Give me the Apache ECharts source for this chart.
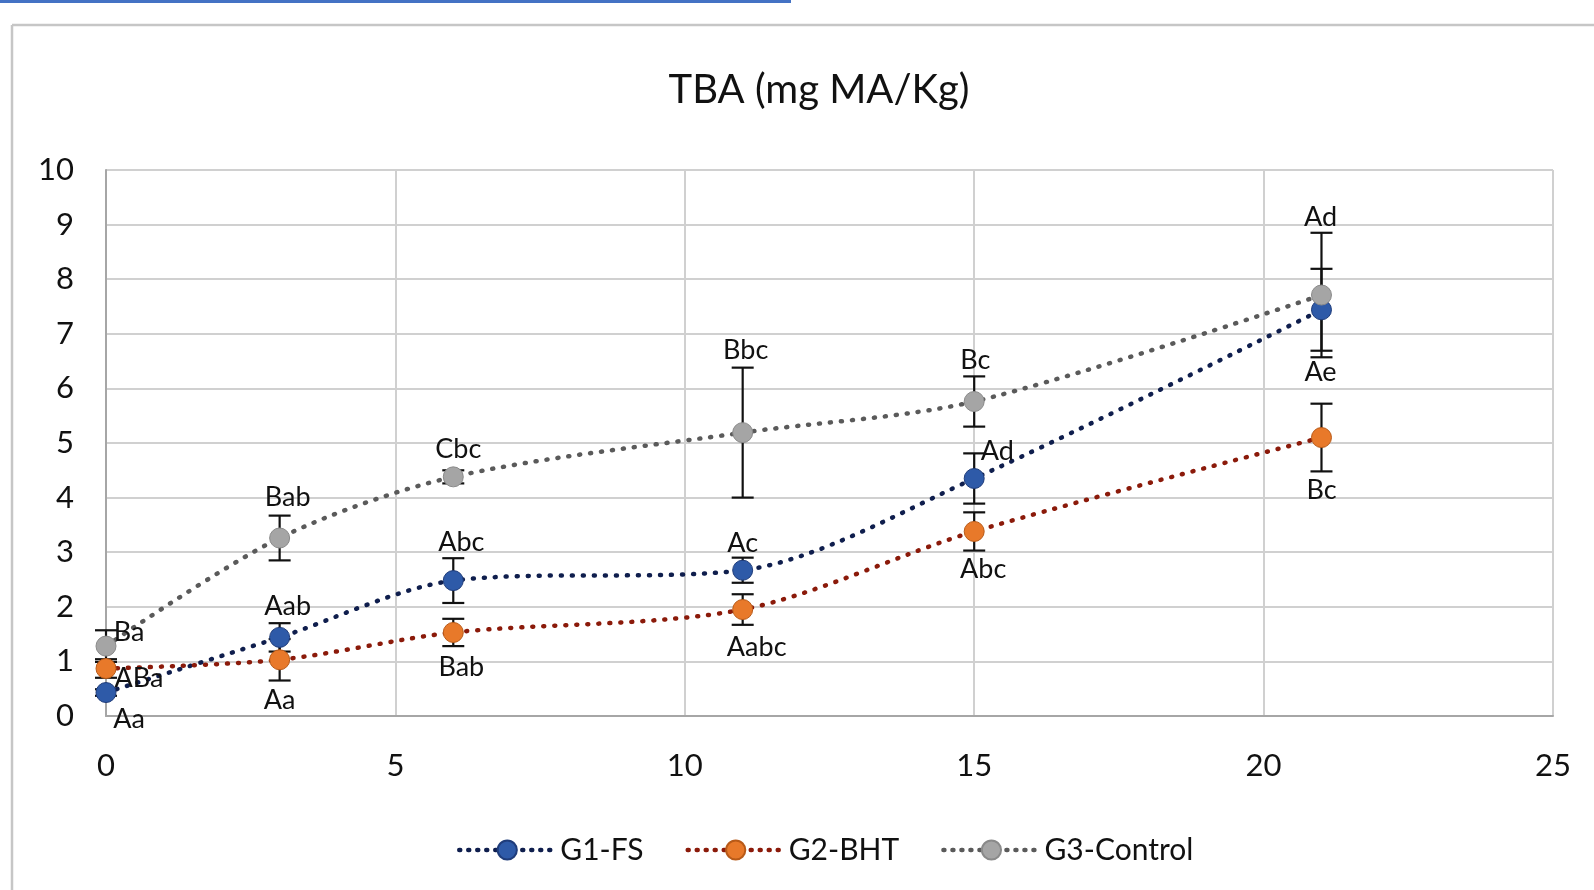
<!DOCTYPE html>
<html>
<head>
<meta charset="utf-8">
<title>TBA (mg MA/Kg)</title>
<script src="https://cdn.jsdelivr.net/npm/echarts@6/dist/echarts.min.js"></script>
<style>
  html, body { margin: 0; padding: 0; background: #fff; }
  #chart { width: 1594px; height: 890px; }
</style>
</head>
<body>
<div id="chart"></div>
<script>
  // storage days
  var days = [0, 3, 6, 11, 15, 21];

  // mean values
  var g1Values = [0.43, 1.44, 2.48, 2.67, 4.35, 7.44];
  var g2Values = [0.87, 1.03, 1.53, 1.95, 3.38, 5.10];
  var g3Values = [1.28, 3.26, 4.38, 5.19, 5.76, 7.71];

  // +/- error
  var g1Errors = [0.06, 0.26, 0.41, 0.23, 0.46, 0.75];
  var g2Errors = [0.17, 0.38, 0.25, 0.28, 0.35, 0.62];
  var g3Errors = [0.29, 0.41, 0.12, 1.19, 0.46, 1.14];

  // significance letters
  var g1Letters = ['Aa', 'Aab', 'Abc', 'Ac', 'Ad', 'Ae'];
  var g2Letters = ['ABa', 'Aa', 'Bab', 'Aabc', 'Abc', 'Bc'];
  var g3Letters = ['Ba', 'Bab', 'Cbc', 'Bbc', 'Bc', 'Ad'];

  var seriesNames = ['G1-FS', 'G2-BHT', 'G3-Control'];
  var yTicks = { min: 0, max: 10, interval: 1 };
  var xTicks = { min: 0, max: 25, interval: 5 };

  // label offsets (px) from each point, like the excel placement
  var g1Offsets = [[23, 27], [8, -31], [8, -38], [0, -27], [23, -27], [-1, 63]];
  var g2Offsets = [[33, 10], [0, 41], [8, 35], [14, 38], [9, 38], [0, 53]];
  var g3Offsets = [[23, -14], [8, -41], [5, -28], [3, -82], [1, -41], [-1, -78]];

  var FONT = 'Lato, "Open Sans", sans-serif';

  var chart = echarts.init(document.getElementById('chart'));

  function lineSeries(name, values, letters, offsets, lineColor, fill, border) {
    return {
      name: name,
      type: 'line',
      z: 5,
      smooth: 0.3,
      symbol: 'circle',
      symbolSize: 20,
      data: days.map(function (d, i) {
        return {
          value: [d, values[i]],
          label: { offset: offsets[i], formatter: letters[i] }
        };
      }),
      lineStyle: { color: lineColor, width: 4.5, type: [1, 10], cap: 'round' },
      itemStyle: { color: fill, borderColor: border, borderWidth: 1 },
      label: {
        show: true,
        position: 'inside',
        fontFamily: FONT,
        fontSize: 27,
        color: '#111'
      },
      emphasis: { disabled: true }
    };
  }

  function errorSeries(name, values, errors) {
    return {
      name: name + ' error',
      type: 'custom',
      z: 3,
      silent: true,
      data: days.map(function (d, i) {
        return [d, values[i] - errors[i], values[i] + errors[i]];
      }),
      encode: { x: 0, y: [1, 2] },
      renderItem: function (params, api) {
        var lo = api.coord([api.value(0), api.value(1)]);
        var hi = api.coord([api.value(0), api.value(2)]);
        var w = 11;
        var st = { stroke: '#111', lineWidth: 2.2 };
        return {
          type: 'group',
          children: [
            { type: 'line', shape: { x1: lo[0], y1: lo[1], x2: hi[0], y2: hi[1] }, style: st },
            { type: 'line', shape: { x1: lo[0] - w, y1: lo[1], x2: lo[0] + w, y2: lo[1] }, style: st },
            { type: 'line', shape: { x1: hi[0] - w, y1: hi[1], x2: hi[0] + w, y2: hi[1] }, style: st }
          ]
        };
      }
    };
  }

  chart.setOption({
    animation: false,
    backgroundColor: '#fff',
    title: {
      text: 'TBA (mg MA/Kg)',
      left: 814,
      top: 65,
      textAlign: 'center',
      textStyle: { fontFamily: FONT, fontSize: 40, fontWeight: 'normal', color: '#111' }
    },
    graphic: [
      { type: 'rect', shape: { x: 0, y: 0, width: 791, height: 3 }, style: { fill: '#4472c4' } },
      { type: 'line', shape: { x1: 12, y1: 25, x2: 1594, y2: 25 }, style: { stroke: '#c6c6c6', lineWidth: 2.5 } },
      { type: 'line', shape: { x1: 12, y1: 25, x2: 12, y2: 890 }, style: { stroke: '#c6c6c6', lineWidth: 2.5 } }
    ],
    legend: {
      data: seriesNames,
      left: 452,
      top: 830,
      itemWidth: 96,
      itemHeight: 24,
      itemGap: 42,
      lineStyle: { width: 4.5, type: [1, 8], cap: 'round' },
      textStyle: { fontFamily: FONT, fontSize: 30, color: '#111' }
    },
    grid: { left: 106, right: 41, top: 170, bottom: 174 },
    xAxis: {
      type: 'value',
      min: xTicks.min,
      max: xTicks.max,
      interval: xTicks.interval,
      axisLine: { show: true, lineStyle: { color: '#a6a6a6', width: 2 } },
      axisTick: { show: false },
      axisLabel: { fontFamily: FONT, fontSize: 31, color: '#111', margin: 34 },
      splitLine: { show: true, lineStyle: { color: '#d0d0d0', width: 2 } }
    },
    yAxis: {
      type: 'value',
      min: yTicks.min,
      max: yTicks.max,
      interval: yTicks.interval,
      axisLine: { show: true, lineStyle: { color: '#a6a6a6', width: 2 } },
      axisTick: { show: false },
      axisLabel: { fontFamily: FONT, fontSize: 31, color: '#111', margin: 32 },
      splitLine: { show: true, lineStyle: { color: '#d0d0d0', width: 2 } }
    },
    series: [
      errorSeries('G1-FS', g1Values, g1Errors),
      errorSeries('G2-BHT', g2Values, g2Errors),
      errorSeries('G3-Control', g3Values, g3Errors),
      lineSeries('G1-FS', g1Values, g1Letters, g1Offsets, '#0f1e4d', '#2e5aa8', '#1f3c7a'),
      lineSeries('G2-BHT', g2Values, g2Letters, g2Offsets, '#8b1a0a', '#e8792a', '#b85a18'),
      lineSeries('G3-Control', g3Values, g3Letters, g3Offsets, '#5a5a5a', '#a5a5a5', '#8a8a8a')
    ]
  });
</script>
</body>
</html>
